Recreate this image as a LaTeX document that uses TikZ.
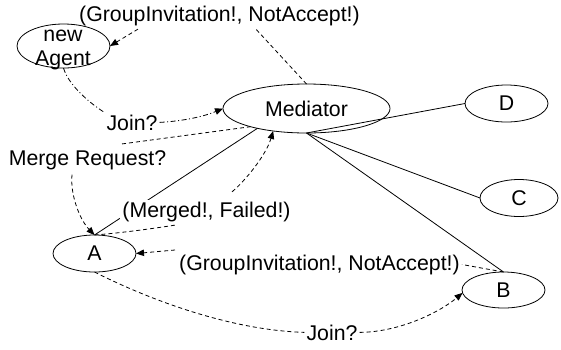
\documentclass[tikz,border=0pt]{standalone}
\usepackage{fontspec}
\setmainfont{Liberation Sans}
\usetikzlibrary{shapes.geometric,arrows.meta,calc}
\begin{document}
\begin{tikzpicture}[
  x=1pt, y=-1pt,
  font=\fontsize{21.3}{24}\selectfont,
  ell/.style={draw, ellipse, inner sep=0pt, outer sep=0pt, line width=0.8pt},
  lbl/.style={anchor=base, inner sep=2pt},
  conn/.style={line width=0.8pt},
  dsh/.style={conn, dash pattern=on 4pt off 3pt},
  dshdot/.style={conn, dash pattern=on 5pt off 2.5pt on 1pt off 2.5pt},
  arr/.style={-{Triangle[length=8pt,width=6.5pt]}}
]
\useasboundingbox (0,0) rectangle (561,349);

% agents
\node[ell, minimum width=93pt, minimum height=44pt] (agent) at (63.5,46) {};
\node[lbl] (agentl1) at (63,41) {new};
\node[lbl] (agentl2) at (63,65) {Agent};
\node[ell, minimum width=167pt, minimum height=49pt] (med) at (306.5,108.5) {Mediator};
\node[ell, minimum width=83pt, minimum height=37pt] (D) at (506.5,103.5) {D};
\node[ell, minimum width=78pt, minimum height=37pt] (C) at (519,198) {C};
\node[ell, minimum width=83pt, minimum height=36pt] (B) at (503.5,290) {B};
\node[ell, minimum width=83pt, minimum height=37pt] (A) at (94.5,253.5) {A};

% group membership
\draw[conn] (med.south) -- (D.west);
\draw[conn] (med.south) -- (C.west);
\draw[conn] (med.south) -- (B.north);
\draw[conn] (med.202) -- (A.north);

% message labels
\node[lbl] (gi1) at (219.5,21) {(GroupInvitation!, NotAccept!)};
\node[lbl] (join1) at (132,130) {Join?};
\node[lbl] (merge) at (87.5,165) {Merge Request?};
\node[lbl, fill=white] (merged) at (206.5,217) {(Merged!, Failed!)};
\node[lbl] (gi2) at (319.5,270) {(GroupInvitation!, NotAccept!)};
\node[lbl] (join2) at (332,340) {Join?};

% messages
\draw[dsh] (med.north) -- ($(gi1.south)+(35.5,0.5)$);
\draw[dsh,arr] ($(gi1.south)+(-81.5,1.5)$) -- (agent.east);
\draw[dshdot] (agent.south) .. controls (68,84) and (88,102) .. (join1.north west);
\draw[dshdot,arr] (join1.east) .. controls (185,121) and (205,116) .. (med.west);
\draw[dsh] ($(merge.north)+(34.5,-4)$) -- (med.198);
\draw[dsh,arr] ($(merge.south)+(-15.5,3)$) .. controls (70,195) and (80,220) .. (A.north);
\draw[dsh] (A.north) .. controls (120,233) and (150,229) .. ($(merged.south)+(-31.5,1.5)$);
\draw[dsh,arr] ($(merged.north)+(25.5,-7.5)$) .. controls (246,180) and (266,155) .. (med.214);
\draw[dsh] (B.north) -- (gi2.east);
\draw[dsh,arr] ($(gi2.west)+(-2,-14.5)$) -- (A.east);
\draw[dsh] (A.south) .. controls (150,300) and (230,330) .. (join2.west);
\draw[dsh,arr] (join2.east) .. controls (400,332) and (440,312) .. (B.184);
\end{tikzpicture}
\end{document}
